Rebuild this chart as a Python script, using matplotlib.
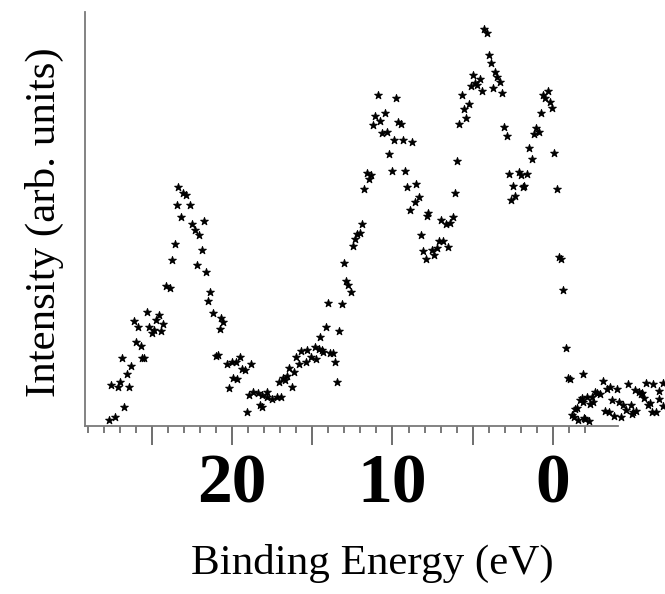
"""Valence-band photoemission spectrum, scatter of intensity vs binding energy."""

import matplotlib

matplotlib.use("Agg")
import matplotlib.pyplot as plt
from matplotlib.ticker import FixedLocator, FixedFormatter

# binding energy (eV) and measured intensity (arb. units)
energy = [
    27.64, 27.56, 27.29, 27.12, 26.98, 26.83, 26.71, 26.56, 26.40, 26.27,
    26.12, 25.96, 25.84, 25.69, 25.63, 25.48, 25.28, 25.15, 25.00, 24.86,
    24.72, 24.57, 24.42, 24.28, 24.11, 23.86, 23.74, 23.57, 23.45, 23.35,
    23.18, 23.03, 22.87, 22.62, 22.47, 22.31, 22.20, 22.04, 21.89, 21.76,
    21.62, 21.48, 21.35, 21.20, 21.02, 20.89, 20.75, 20.67, 20.54, 20.33,
    20.21, 20.02, 19.96, 19.75, 19.67, 19.50, 19.38, 19.21, 19.08, 18.96,
    18.82, 18.67, 18.36, 18.26, 18.13, 18.15, 17.82, 17.85, 17.53, 17.21,
    17.10, 16.97,
    16.80, 16.70, 16.59, 16.43, 16.26, 16.12, 16.01, 15.83, 15.70, 15.39,
    15.35, 15.08, 14.83, 14.79, 14.56, 14.54, 14.41, 14.31, 14.14, 14.00,
    13.89, 13.73, 13.58, 13.44, 13.31, 13.17, 13.02, 12.90, 12.75, 12.60,
    12.44, 12.34, 12.19, 12.02, 11.90, 11.76, 11.61, 11.46, 11.36, 11.20,
    11.07, 10.88, 10.78, 10.64, 10.47, 10.36, 10.20, 10.05, 9.91, 9.78,
    9.64, 9.49, 9.36, 9.20, 9.08, 8.93, 8.79, 8.62, 8.52, 8.35,
    8.22, 8.08, 7.91, 7.83, 7.77, 7.54, 7.40, 7.25, 7.10, 6.96,
    6.83, 6.67, 6.54, 6.42, 6.25, 6.12, 5.96, 5.84, 5.69, 5.55,
    5.42, 5.25, 5.11, 4.97, 4.86, 4.72, 4.55, 4.42, 4.28, 4.13,
    4.01, 3.86, 3.72, 3.61, 3.49, 3.28, 3.16, 3.03, 2.88, 2.74,
    2.60, 2.47, 2.35, 2.12, 2.02, 1.89, 1.81, 1.62,
    1.48, 1.31, 1.18, 1.04, 0.89, 0.77, 0.64, 0.52, 0.31, 0.19,
    0.04, -0.08, -0.25, -0.39, -0.52, -0.64, -0.81, -0.92, -1.06, -1.17,
    -1.31, -1.51, -1.58, -1.68, -1.79, -1.89, -1.95, -2.10, -2.24, -2.31,
    -2.41, -2.62, -2.76, -2.93, -3.13, -3.26, -3.38, -3.55, -3.69, -3.82,
    -3.97, -4.11, -4.24, -4.53, -4.69, -4.84, -5.00, -5.11, -5.17, -5.34,
    -5.46, -5.67, -5.79, -5.94, -6.04, -6.25, -6.40, -6.62, -6.83, -6.87,
    -1.37, -1.89, -2.02, -2.50, -3.48, -4.37, -4.92, -5.55, -6.15, -6.60,
]
intensity = [
    6, 41, 9, 39, 44, 68, 19, 52, 39, 60,
    105, 84, 99, 80, 68, 68, 114, 99, 93, 96,
    106, 111, 95, 102, 140, 138, 166, 182, 221, 239,
    209, 233, 231, 221, 202, 196, 161, 191, 176, 205,
    154, 125, 134, 113, 70, 71, 97, 108, 104, 62,
    38, 64, 48, 64, 47, 69, 57, 56, 14, 31,
    62, 34, 33, 21, 19, 31, 34, 29, 27, 29,
    44, 29,
    48, 46, 50, 58, 39, 54, 69, 62, 75, 64,
    76, 69, 79, 67, 77, 89, 76, 74, 99, 123,
    73, 73, 64, 44, 95, 122, 163, 145, 141, 134,
    180, 187, 192, 193, 202, 237, 253, 247, 251, 301,
    310, 331, 305, 293, 313, 294, 272, 255, 286, 328,
    304, 302, 286, 255, 239, 216, 284, 224, 242, 229,
    191, 175, 167, 210, 213, 176, 171, 178, 185, 206,
    185, 202, 179, 203, 209, 233, 265, 302, 331, 317,
    308, 322, 340, 351, 343, 341, 347, 335, 397, 393,
    371, 363, 338, 354, 349, 344, 333, 299, 290, 252,
    226, 240, 230, 254, 251, 239, 240, 252,
    278, 267, 292, 298, 294, 313, 331, 328, 335, 324,
    318, 273, 237, 169, 167, 136, 78, 48, 47, 11,
    9, 18, 6, 26, 28, 52, 8, 29, 5, 22,
    29, 34, 33, 32, 45, 15, 37, 39, 26, 10,
    37, 24, 9, 16, 42, 21, 14, 36, 15, 34,
    32, 28, 43, 21, 23, 42, 14, 27, 20, 43,
    17, 24, 7, 24, 14, 21, 12, 33, 14, 35,
]

major_ticks = [25, 20, 15, 10, 5, 0]
major_labels = ["", "20", "", "10", "", "0"]
minor_ticks = list(range(-2, 30))

SERIF = ["Liberation Serif", "DejaVu Serif"]
AXIS_GREY = "#7a7a7a"

fig = plt.figure(figsize=(6.65, 5.94), dpi=100)
ax = fig.add_axes([0.1278, 0.2828, 0.8015, 0.6970])

ax.scatter(energy, intensity, marker="*", s=34, color="black",
           linewidths=0.7, edgecolors="black", clip_on=False, zorder=3)

ax.set_xlim(29.16, -4.05)
ax.set_ylim(0, 414)

# only left and bottom frame lines
ax.spines["top"].set_visible(False)
ax.spines["right"].set_visible(False)
for side in ("left", "bottom"):
    ax.spines[side].set_color(AXIS_GREY)
    ax.spines[side].set_linewidth(1.3)

ax.set_yticks([])
ax.xaxis.set_major_locator(FixedLocator(major_ticks))
ax.xaxis.set_major_formatter(FixedFormatter(major_labels))
ax.xaxis.set_minor_locator(FixedLocator(minor_ticks))
ax.tick_params(axis="x", which="major", direction="out", length=14,
               width=1.2, color="#555555", pad=6)
ax.tick_params(axis="x", which="minor", direction="out", length=5,
               width=1.1, color="#555555")
for lab in ax.get_xticklabels():
    lab.set_fontfamily(SERIF)
    lab.set_fontweight("bold")
    lab.set_fontsize(50)

ax.set_xlabel("Binding Energy (eV)", fontfamily=SERIF, fontsize=31, va="center")
ax.xaxis.set_label_coords(0.5385, -0.331)
ax.set_ylabel("Intensity (arb. units)", fontfamily=SERIF, fontsize=31, va="center")
ax.yaxis.set_label_coords(-0.0769, 0.493)

plt.savefig("out.png", dpi=100)
plt.close()
